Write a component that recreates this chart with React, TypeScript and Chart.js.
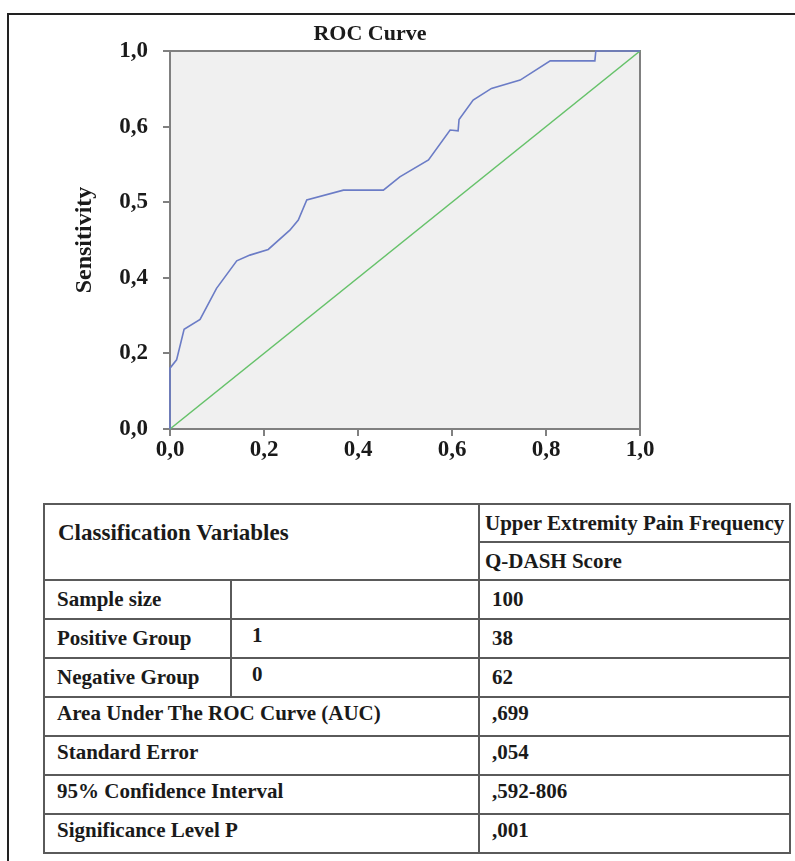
import React, { useEffect, useRef } from "react";
import { Chart, registerables } from "chart.js";

Chart.register(...registerables);

// ROC curve data (1 - specificity, sensitivity)
const rocFpr = [0, 0, 0.014, 0.03, 0.064, 0.099, 0.142, 0.17, 0.209, 0.255, 0.273, 0.291, 0.369, 0.454, 0.489, 0.55, 0.596, 0.613, 0.615, 0.645, 0.684, 0.745, 0.809, 0.904, 0.906, 1.0];
const rocSens = [0, 0.161, 0.183, 0.264, 0.29, 0.372, 0.445, 0.46, 0.475, 0.526, 0.553, 0.606, 0.632, 0.632, 0.667, 0.712, 0.791, 0.789, 0.819, 0.87, 0.901, 0.923, 0.974, 0.974, 1.0, 1.0];
const refX = [0, 1];
const refY = [0, 1];

const xTickLabels = ["0,0", "0,2", "0,4", "0,6", "0,8", "1,0"];
const yTickLabels = ["0,0", "0,2", "0,4", "0,5", "0,6", "1,0"];

const chartTitle = "ROC Curve";
const yAxisTitle = "Sensitivity";

// Table content
const headerLabel = "Classification Variables";
const headerCol1 = "Upper Extremity Pain Frequency";
const headerCol2 = "Q-DASH Score";
const groupRows = [
  ["Sample size", "", "100"],
  ["Positive Group", "1", "38"],
  ["Negative Group", "0", "62"],
];
const statRows = [
  ["Area Under The ROC Curve (AUC)", ",699"],
  ["Standard Error", ",054"],
  ["95% Confidence Interval", ",592-806"],
  ["Significance Level P", ",001"],
];

const FONT = "'Liberation Serif', 'Times New Roman', serif";
const BORDER = "2px solid #5a5a5a";

const plotFrame = {
  id: "plotFrame",
  beforeDatasetsDraw(chart: any) {
    const { ctx, chartArea } = chart;
    ctx.save();
    ctx.fillStyle = "#f0f0f0";
    ctx.fillRect(chartArea.left, chartArea.top, chartArea.right - chartArea.left, chartArea.bottom - chartArea.top);
    ctx.strokeStyle = "#808080";
    ctx.lineWidth = 2;
    ctx.strokeRect(chartArea.left, chartArea.top, chartArea.right - chartArea.left, chartArea.bottom - chartArea.top);
    ctx.restore();
  },
};

function RocChart() {
  const ref = useRef<HTMLCanvasElement | null>(null);
  useEffect(() => {
    if (!ref.current) return;
    const chart = new Chart(ref.current, {
      type: "scatter",
      data: {
        datasets: [
          {
            label: "ROC",
            data: rocFpr.map((x, i) => ({ x, y: rocSens[i] })),
            showLine: true,
            borderColor: "#6b7cc6",
            borderWidth: 1.6,
            pointRadius: 0,
            tension: 0,
            clip: 4,
          },
          {
            label: "Reference",
            data: refX.map((x, i) => ({ x, y: refY[i] })),
            showLine: true,
            borderColor: "#66c26a",
            borderWidth: 1.6,
            pointRadius: 0,
            clip: 4,
          },
        ],
      },
      options: {
        responsive: false,
        animation: false,
        devicePixelRatio: 1,
        layout: { padding: { left: 0, right: 155, top: 51, bottom: 0 } },
        plugins: {
          legend: { display: false },
          tooltip: { enabled: false },
          title: { display: false },
        },
        scales: {
          x: {
            type: "linear",
            min: 0,
            max: 1,
            afterFit: (s: any) => { s.height = 41; },
            grid: { drawOnChartArea: false, drawTicks: true, tickLength: 7, color: "#808080", lineWidth: 2 },
            border: { display: true, color: "#808080", width: 2 },
            ticks: {
              stepSize: 0.2,
              padding: 0,
              color: "#1a1a1a",
              font: { family: FONT, size: 23, weight: "bold" },
              maxRotation: 0,
              callback: (_v: any, i: number) => xTickLabels[i],
            },
          },
          y: {
            type: "linear",
            min: 0,
            max: 1,
            afterFit: (s: any) => { s.width = 170; },
            grid: { drawOnChartArea: false, drawTicks: true, tickLength: 7, color: "#808080", lineWidth: 2 },
            border: { display: true, color: "#808080", width: 2 },
            title: {
              display: true,
              text: yAxisTitle,
              color: "#1a1a1a",
              font: { family: FONT, size: 24, weight: "bold" },
              padding: { top: 70, bottom: 0 },
            },
            ticks: {
              stepSize: 0.2,
              padding: 15,
              color: "#1a1a1a",
              font: { family: FONT, size: 23, weight: "bold" },
              callback: (_v: any, i: number) => yTickLabels[i],
            },
          },
        },
      },
      plugins: [plotFrame],
    });
    return () => chart.destroy();
  }, []);
  return <canvas ref={ref} width={795} height={470} style={{ position: "absolute", left: 0, top: 0, width: 795, height: 470 }} />;
}

const cell: React.CSSProperties = {
  border: BORDER,
  padding: "0 0 0 12px",
  textAlign: "left",
  verticalAlign: "middle",
  fontWeight: "bold",
  fontSize: 21,
  color: "#1a1a1a",
  whiteSpace: "nowrap",
};

export default function App() {
  return (
    <div style={{ position: "absolute", left: 0, top: 0, width: 795, height: 861, background: "#fff", overflow: "hidden", fontFamily: FONT }}>
      <div style={{ position: "absolute", left: 7, top: 13, width: 790, height: 2, background: "#222" }} />
      <div style={{ position: "absolute", left: 7, top: 13, width: 2, height: 860, background: "#222" }} />
      <RocChart />
      <div style={{ position: "absolute", left: 0, top: 19, width: 740, textAlign: "center", fontWeight: "bold", fontSize: 22, color: "#1a1a1a", lineHeight: "28px" }}>
        {chartTitle}
      </div>
      <table
        style={{
          position: "absolute",
          left: 43,
          top: 503,
          width: 746,
          borderCollapse: "collapse",
          tableLayout: "fixed",
          fontFamily: FONT,
        }}
      >
        <colgroup>
          <col style={{ width: 187 }} />
          <col style={{ width: 248 }} />
          <col style={{ width: 311 }} />
        </colgroup>
        <tbody>
          <tr style={{ height: 38 }}>
            <td colSpan={2} rowSpan={2} style={{ ...cell, fontSize: 23, paddingLeft: 13, paddingBottom: 18 }}>{headerLabel}</td>
            <td style={{ ...cell, paddingLeft: 5 }}>{headerCol1}</td>
          </tr>
          <tr style={{ height: 38 }}>
            <td style={{ ...cell, paddingLeft: 5 }}>{headerCol2}</td>
          </tr>
          {groupRows.map((r, i) => (
            <tr key={"g" + i} style={{ height: 39 }}>
              <td style={cell}>{r[0]}</td>
              <td style={{ ...cell, paddingLeft: 20, paddingBottom: 6 }}>{r[1]}</td>
              <td style={cell}>{r[2]}</td>
            </tr>
          ))}
          {statRows.map((r, i) => (
            <tr key={"s" + i} style={{ height: 39 }}>
              <td colSpan={2} style={{ ...cell, paddingBottom: 6 }}>{r[0]}</td>
              <td style={{ ...cell, paddingBottom: 6 }}>{r[1]}</td>
            </tr>
          ))}
        </tbody>
      </table>
    </div>
  );
}
